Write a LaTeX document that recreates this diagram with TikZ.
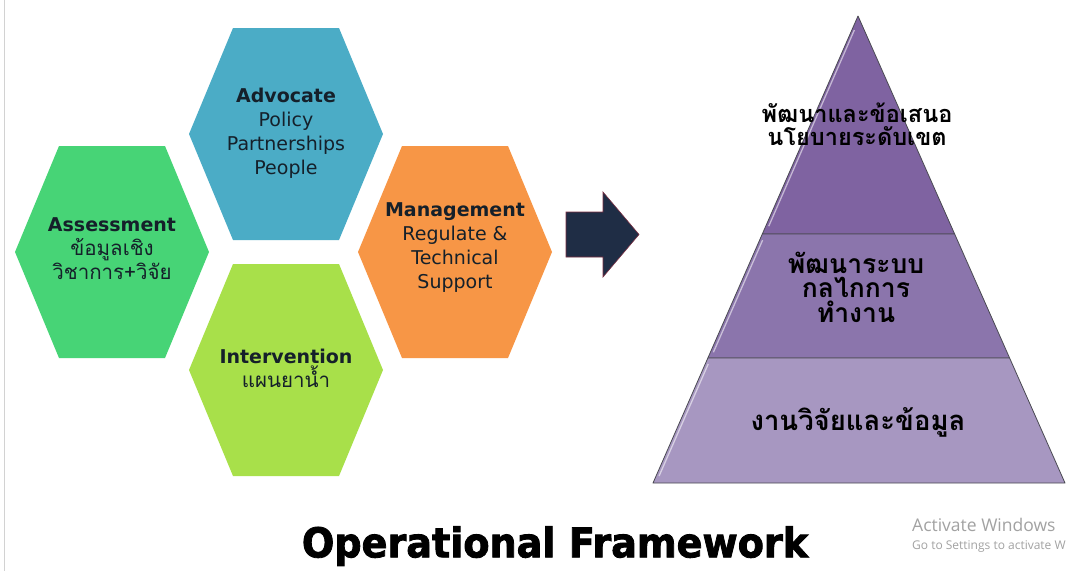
\documentclass[tikz,border=0pt]{standalone}
\usepackage{fontspec}
\usetikzlibrary{calc}
\setmainfont{DejaVu Sans}
\newfontfamily\thaifont[Script=Thai]{Loma}
\newfontfamily\titlefont[FakeStretch=0.93,FakeBold=2]{DejaVu Sans}
\newfontfamily\noticefont{Open Sans}

\definecolor{hexblue}{HTML}{4BACC6}
\definecolor{hexgreen}{HTML}{47D476}
\definecolor{hexlime}{HTML}{A8E04A}
\definecolor{hexorange}{HTML}{F79646}
\definecolor{arrownavy}{HTML}{1F2D45}
\definecolor{arrowedge}{HTML}{7A2F42}
\definecolor{pyrtop}{HTML}{7F63A1}
\definecolor{pyrmid}{HTML}{8B75AC}
\definecolor{pyrbot}{HTML}{A797C1}
\definecolor{pyredge}{HTML}{4A4A52}
\definecolor{inktext}{HTML}{15202A}
\definecolor{noticegray}{HTML}{A2A2A2}

\tikzset{
  hexa/.pic={\path[pic actions] (-97,0) -- (-53,-106) -- (53,-106) -- (97,0)
              -- (53,106) -- (-53,106) -- cycle;},
  hexlabel/.style={align=center, inner sep=0pt, text=inktext,
                   font=\fontsize{19}{24}\selectfont},
  thailine/.style={font=\thaifont\fontsize{20.5}{24}\selectfont},
  tier/.style={draw=pyredge, line width=0.8pt, line join=round},
  gloss/.style={draw=white, draw opacity=0.55, line width=1.3pt},
  tierlabel/.style={align=center, inner sep=0pt, text=black},
}

\begin{document}
\begin{tikzpicture}[x=1pt,y=-1pt]
  \useasboundingbox (0,0) rectangle (1078,571);
  \fill[white] (0,0) rectangle (1078,571);
  \clip (0,0) rectangle (1078,571);

  % thin frame line on the left edge
  \draw[gray!35, line width=0.8pt] (4,0) -- (4,571);

  % ---------- hexagon cluster ----------
  \pic[fill=hexblue]   at (286,134) {hexa};
  \pic[fill=hexgreen]  at (112,252) {hexa};
  \pic[fill=hexorange] at (455,252) {hexa};
  \pic[fill=hexlime]   at (286,370) {hexa};

  \node[hexlabel] (advocate) at (286,133)
    {\textbf{Advocate}\\Policy\\Partnerships\\People};
  \node[hexlabel] (assessment) at (112,249)
    {\textbf{Assessment}\\{\thaifont\fontsize{20.5}{24}\selectfont ข้อมูลเชิง}\\{\thaifont\fontsize{20.5}{24}\selectfont วิชาการ+วิจัย}};
  \node[hexlabel] (management) at (455,248)
    {\textbf{Management}\\Regulate \&\\Technical\\Support};
  \node[hexlabel] (intervention) at (286,368)
    {\textbf{Intervention}\\{\thaifont\fontsize{20.5}{24}\selectfont แผนยาน้ำ}};

  % ---------- block arrow ----------
  \fill[arrownavy, draw=arrowedge, line width=0.6pt, line join=miter]
    (566,212) -- (603,212) -- (603,192) -- (639,234.5) -- (603,277)
    -- (603,257) -- (566,257) -- cycle;

  % ---------- pyramid ----------
  \coordinate (apex) at (858,16);
  \coordinate (bl) at (653,483);
  \coordinate (br) at (1065,483);
  \coordinate (l1) at ($(apex)!0.4668!(bl)$);
  \coordinate (r1) at ($(apex)!0.4668!(br)$);
  \coordinate (l2) at ($(apex)!0.7323!(bl)$);
  \coordinate (r2) at ($(apex)!0.7323!(br)$);

  \filldraw[tier, fill=pyrtop] (apex) -- (l1) -- (r1) -- cycle;
  \filldraw[tier, fill=pyrmid] (l1) -- (l2) -- (r2) -- (r1) -- cycle;
  \filldraw[tier, fill=pyrbot] (l2) -- (bl) -- (br) -- (r2) -- cycle;

  % light bevel along the left faces
  \draw[gloss] ($(apex)!0.03!(bl)+(2.5,0)$) -- ($(apex)!0.45!(bl)+(3,0)$);
  \draw[gloss] ($(apex)!0.48!(bl)+(3,0)$) -- ($(apex)!0.72!(bl)+(3,0)$);
  \draw[gloss] ($(apex)!0.745!(bl)+(3,0)$) -- ($(apex)!0.985!(bl)+(3,0)$);

  \node[tierlabel, font=\thaifont\bfseries\fontsize{23.5}{23}\selectfont] (tiertop) at (857,124)
    {พัฒนาและข้อเสนอ\\นโยบายระดับเขต};
  \node[tierlabel, font=\thaifont\bfseries\fontsize{26.5}{24.5}\selectfont] (tiermid) at (856,287)
    {พัฒนาระบบ\\กลไกการ\\ทำงาน};
  \node[tierlabel, font=\thaifont\bfseries\fontsize{27.5}{26}\selectfont] (tierbot) at (858,422)
    {งานวิจัยและข้อมูล};

  % ---------- caption ----------
  \node[inner sep=0pt, font=\titlefont\bfseries\fontsize{41}{41}\selectfont] (caption)
    at (555,546) {Operational Framework};

  % ---------- system notice ----------
  \node[anchor=west, inner sep=0pt, text=noticegray, font=\noticefont\fontsize{17.5}{18}\selectfont]
    (notice1) at (912,525) {Activate Windows};
  \node[anchor=west, inner sep=0pt, text=noticegray, font=\noticefont\fontsize{12}{13}\selectfont]
    (notice2) at (912,547) {Go to Settings to activate W};
\end{tikzpicture}
\end{document}
